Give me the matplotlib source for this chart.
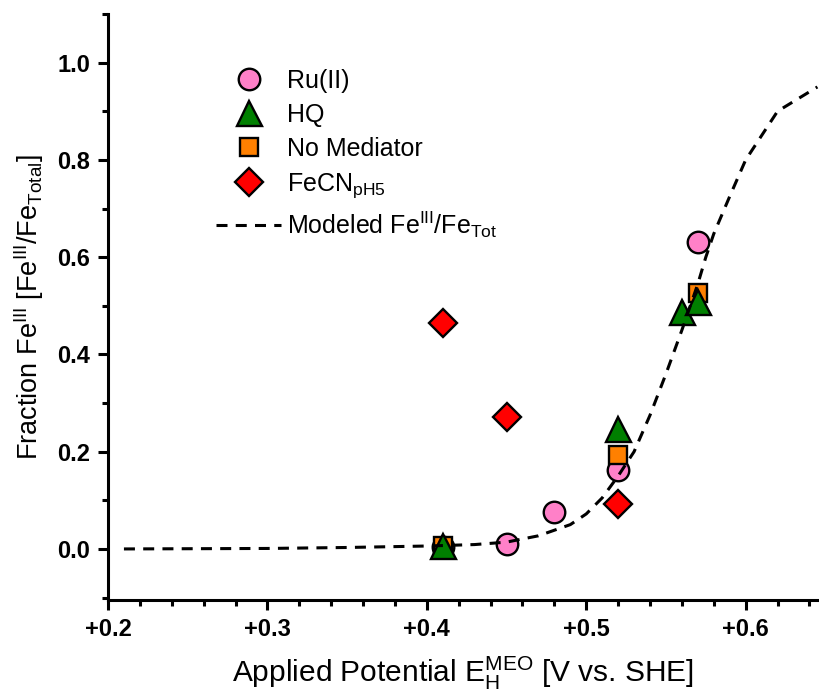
import numpy as np
import matplotlib
matplotlib.use("Agg")
import matplotlib.pyplot as plt
from matplotlib.ticker import MultipleLocator, FormatStrFormatter

plt.rcParams['font.family'] = ['Liberation Sans', 'DejaVu Sans']
plt.rcParams['mathtext.fontset'] = 'custom'
plt.rcParams['mathtext.rm'] = 'Liberation Sans'
plt.rcParams['mathtext.it'] = 'Liberation Sans'
plt.rcParams['mathtext.default'] = 'regular'

# data
ru_x = [0.41, 0.45, 0.48, 0.52, 0.57]
ru_y = [0.003, 0.010, 0.075, 0.162, 0.632]
hq_x = [0.41, 0.52, 0.56, 0.57]
hq_y = [0.006, 0.247, 0.487, 0.507]
nomed_x = [0.41, 0.52, 0.57]
nomed_y = [0.006, 0.193, 0.527]
fecn_x = [0.41, 0.45, 0.52]
fecn_y = [0.465, 0.271, 0.093]
model_x = [0.21, 0.30, 0.35, 0.40, 0.43, 0.45, 0.47, 0.49, 0.50, 0.51, 0.52,
           0.53, 0.54, 0.55, 0.56, 0.57, 0.575, 0.58, 0.59, 0.60, 0.61, 0.62, 0.645]
model_y = [0.0, 0.001, 0.003, 0.006, 0.009, 0.014, 0.027, 0.050, 0.072, 0.105, 0.150,
           0.200, 0.275, 0.360, 0.450, 0.545, 0.600, 0.648, 0.725, 0.800, 0.850, 0.900, 0.950]

fig = plt.figure(figsize=(8.19, 6.96), dpi=100)
ax = fig.add_axes([108/819, 1 - 600/696, 1 - 108/819, (600 - 14)/696])

edge = dict(markeredgecolor='black', markeredgewidth=1.7, linestyle='none')
ax.plot(ru_x, ru_y, marker='o', markersize=15.5, markerfacecolor='#FF80C8', label='Ru(II)', zorder=3, **edge)
ax.plot(nomed_x, nomed_y, marker='s', markersize=13, markerfacecolor='#FF8000', label='No Mediator', zorder=4, **edge)
ax.plot(hq_x, hq_y, marker='^', markersize=18, markerfacecolor='#007F00', label='HQ', zorder=5, **edge)
ax.plot(fecn_x, fecn_y, marker='D', markersize=14, markerfacecolor='#FF0000', label='FeCN$_{pH5}$', zorder=6, **edge)
ax.plot(model_x, model_y, color='black', linewidth=2.2, dashes=(3.6, 2.7),
        label='Modeled Fe$^{III}$/Fe$_{Tot}$', zorder=7)

ax.set_xlim(0.2, 0.646)
ax.set_ylim(-0.105, 1.1)
ax.xaxis.set_major_locator(MultipleLocator(0.1))
ax.xaxis.set_minor_locator(MultipleLocator(0.02))
ax.yaxis.set_major_locator(MultipleLocator(0.2))
ax.yaxis.set_minor_locator(MultipleLocator(0.1))
ax.xaxis.set_major_formatter(FormatStrFormatter('+%.1f'))
ax.yaxis.set_major_formatter(FormatStrFormatter('%.1f'))

for s in ['top', 'right']:
    ax.spines[s].set_visible(False)
for s in ['left', 'bottom']:
    ax.spines[s].set_linewidth(2.2)
ax.tick_params(which='major', direction='out', length=7, width=2.2, labelsize=17, pad=6)
ax.tick_params(which='minor', direction='out', length=4, width=2.2)
for lab in ax.get_xticklabels() + ax.get_yticklabels():
    lab.set_fontweight('bold')

ax.set_xlabel('Applied Potential E$_H^{MEO}$ [V vs. SHE]', fontsize=21.5, labelpad=10)
ax.set_ylabel('Fraction Fe$^{III}$ [Fe$^{III}$/Fe$_{Total}$]', fontsize=19.5, labelpad=8)

h, l = ax.get_legend_handles_labels()
order = [0, 2, 1, 3, 4]
ax.legend([h[i] for i in order], [l[i] for i in order], loc='upper left',
          bbox_to_anchor=(216/819, 1 - 69/696), bbox_transform=fig.transFigure,
          frameon=False, fontsize=18, handlelength=2.6, handletextpad=0.25,
          labelspacing=0.4, borderpad=0, borderaxespad=0)

fig.savefig('out.png', dpi=100)
